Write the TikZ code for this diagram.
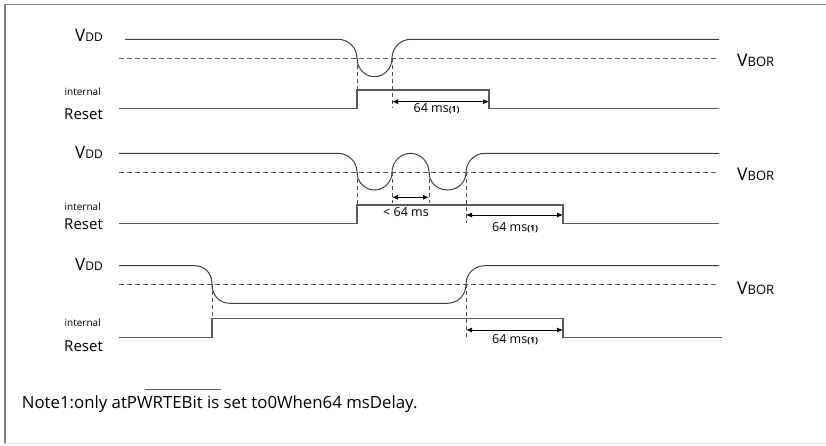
\documentclass[tikz,border=0pt]{standalone}
\usepackage{fontspec}
\setmainfont{Open Sans}
\usetikzlibrary{arrows.meta}
\definecolor{wire}{HTML}{5A5A5A}
\definecolor{framec}{HTML}{808080}
\tikzset{
  sig/.style={wire, line width=1.3pt},
  vline/.style={black!75, line width=1pt},
  bor/.style={wire, line width=1pt, dash pattern=on 5pt off 3pt},
  guide/.style={black!70, line width=1pt, dash pattern=on 4pt off 3pt},
  dim/.style={black, line width=1pt, {Latex[length=6pt,width=5pt]}-{Latex[length=6pt,width=5pt]}},
  lbl/.style={inner sep=0pt, anchor=base east},
  rlbl/.style={inner sep=0pt, anchor=base west},
  mlbl/.style={inner sep=0pt, anchor=base},
}
\newcommand{\vddlbl}{\fontsize{17}{17}\selectfont V\fontsize{12}{12}\selectfont DD}
\newcommand{\vborlbl}{\fontsize{17.5}{17}\selectfont V\fontsize{13}{13}\selectfont BOR}
\newcommand{\intlbl}{\fontsize{10}{10}\selectfont internal}
\newcommand{\rstlbl}{\fontsize{15}{15}\selectfont Reset}
\newcommand{\msone}{\fontsize{12.5}{12}\selectfont 64 ms\fontsize{8.5}{8}\selectfont\bfseries(1)}

\begin{document}
\begin{tikzpicture}[x=1pt,y=-1pt]
    \useasboundingbox (0,0) rectangle (826,445);
    \draw[framec, line width=1.5pt] (826,4.7) -- (5,4.7) -- (5,443);
    \draw[black!10, line width=1pt] (5,443) -- (826,443);

    % first brown-out
    \node[lbl] (vdd1) at (103,41.7) {\vddlbl};
    \node[lbl] (int1) at (101,95) {\intlbl};
    \node[lbl] (rst1) at (103,119) {\rstlbl};
    \node[rlbl] (bor1) at (737,66) {\vborlbl};
    \draw[bor] (119,58.3) -- (719,58.3);
    \draw[vline] (125,39.3) -- (338,39.3) .. controls (348.5,39.3) and (357,47.8) .. (357,58.3)
        .. controls (357,68.5) and (365,76.7) .. (374.5,76.7) .. controls (384,76.7) and (392,68.5) .. (392,58.3)
        .. controls (392,47.8) and (400.5,39.3) .. (411,39.3) -- (719,39.3);
    \draw[guide] (357,58.3) -- (357,108.3);
    \draw[guide] (392,58.3) -- (392,108.3);
    \draw[sig] (119,108.3) -- (357,108.3) -- (357,90) -- (489,90) -- (489,108.3) -- (719,108.3);
    \coordinate (a1) at (392,101.7);
    \coordinate (b1) at (489,101.7);
    \draw[dim] (a1) -- (b1);
    \node[mlbl] (ms1) at (436.5,112.3) {\msone};

    % two short dips
    \node[lbl] (vdd2) at (103,158) {\vddlbl};
    \node[lbl] (int2) at (101,210.7) {\intlbl};
    \node[lbl] (rst2) at (103,229) {\rstlbl};
    \node[rlbl] (bor2) at (737,180.7) {\vborlbl};
    \draw[bor] (119,172.3) -- (719,172.3);
    \draw[vline] (119,153.3) -- (338,153.3) .. controls (348.5,153.3) and (357,161.8) .. (357,172.3)
        .. controls (357,182) and (365,190) .. (374.5,190) .. controls (384,190) and (392,182) .. (392,172.3)
        .. controls (392,162) and (400.5,153.3) .. (410.5,153.3) .. controls (420.5,153.3) and (429,162) .. (429,172.3)
        .. controls (429,182) and (437,190) .. (447.5,190) .. controls (458,190) and (466,182) .. (466,172.3)
        .. controls (466,161.8) and (474.5,153.3) .. (485,153.3) -- (719,153.3);
    \draw[guide] (357,172.3) -- (357,223.3);
    \draw[guide] (392,172.3) -- (392,203);
    \draw[guide] (429,172.3) -- (429,203);
    \draw[guide] (466,172.3) -- (466,223.3);
    \draw[sig] (119,223.3) -- (357,223.3) -- (357,205) -- (563,205) -- (563,223.3) -- (719,223.3);
    \coordinate (a2) at (392,197.3);
    \coordinate (b2) at (429,197.3);
    \coordinate (c2) at (466,215);
    \coordinate (d2) at (563,215);
    \draw[dim] (a2) -- (b2);
    \draw[dim] (c2) -- (d2);
    \node[mlbl] (lt2) at (406,216.7) {\fontsize{12.5}{12}\selectfont < 64 ms};
    \node[mlbl] (ms2) at (515,231.7) {\msone};

    % long drop
    \node[lbl] (vdd3) at (103,270) {\vddlbl};
    \node[lbl] (int3) at (101,326) {\intlbl};
    \node[lbl] (rst3) at (103,351) {\rstlbl};
    \node[rlbl] (bor3) at (737,294) {\vborlbl};
    \draw[bor] (119,284.3) -- (719,284.3);
    \draw[vline] (119,265.7) -- (195,265.7) .. controls (205.5,265.7) and (212,274) .. (212,284.3)
        .. controls (212,295) and (219,303.3) .. (230,303.3) -- (447,303.3)
        .. controls (458,303.3) and (466,295) .. (466,284.3) .. controls (466,274) and (474,265.7) .. (485,265.7) -- (719,265.7);
    \draw[guide] (212,284.3) -- (212,337.3);
    \draw[guide] (466,284.3) -- (466,337.3);
    \draw[sig] (119,337.3) -- (212,337.3) -- (212,318.3) -- (563,318.3) -- (563,337.3) -- (722,337.3);
    \coordinate (a3) at (466,330);
    \coordinate (b3) at (563,330);
    \draw[dim] (a3) -- (b3);
    \node[mlbl] (ms3) at (515,343) {\msone};

    % note
    \node[rlbl] (note) at (21.7,408.5) {\fontsize{16.8}{17}\selectfont Note1:only atPWRTEBit is set to0When64 msDelay.};
    \draw[wire, line width=1.3pt] (145,389.3) -- (221,389.3);
\end{tikzpicture}
\end{document}
